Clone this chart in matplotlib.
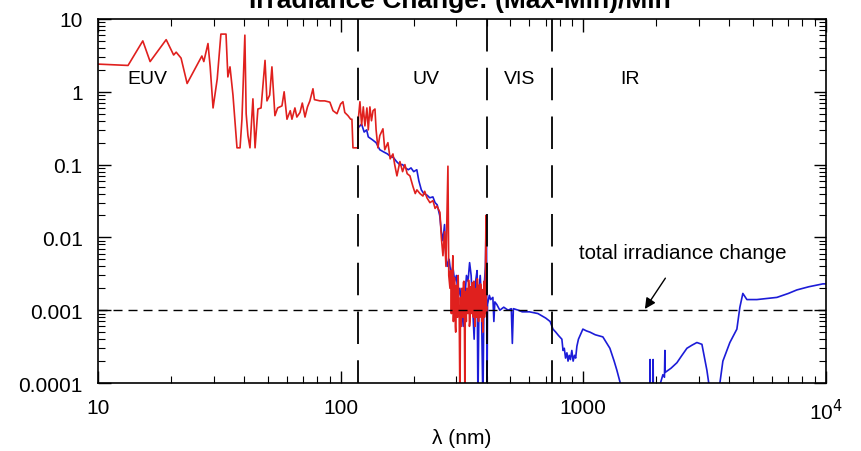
import numpy as np
import matplotlib
matplotlib.use("Agg")
import matplotlib.pyplot as plt

# Irradiance change (max-min)/min versus wavelength.
# Values below 1e-4 are off the bottom of the plot, they are written as 5e-5.

red_wl = [10, 13.3, 15.3, 16.4, 19.1, 20.5, 21.0, 22.0, 23.3, 26.8, 27.3, 28.4, 29.0,
          29.8, 31.0, 32.1, 33.7, 34.3, 35.0, 36.0, 37.4, 38.5, 39.2, 40.3, 40.8,
          41.5, 42.3, 43.5, 44.4, 45.6, 47.0, 48.8, 49.7, 51.0, 52.1, 53.6, 55.0,
          57.3, 58.5, 60.1, 62.0, 63.0, 64.8, 66.0, 68.0, 69.5, 71.3, 73.0, 74.7,
          76.9, 78.0, 82.2, 86.0, 90.3, 93.0, 96.6, 100.0, 102.2, 104.0, 107.2,
          110.0, 111.3, 112.4, 117.8, 118.5, 120.1, 122.0, 124.0, 125.9, 128.3,
          130.0, 132.0, 134.0, 136.0, 138.5, 140.0, 142.4, 145.0, 149.4, 152.0,
          156.6, 160.0, 164.3, 167.0, 170.6, 175.5, 180.0, 184.0, 188.0, 193.0,
          198.6, 203.0, 206.2, 212.2, 218.3, 222.0, 226.8, 233.3, 240.1, 245.0,
          249.4, 256.6, 260.0, 264.0, 268.0, 271.6, 276.8, 279.0, 282.2, 284.0,
          286.0, 288.0, 290.1, 291.5, 293.0, 294.5, 295.8, 297.0, 298.0, 300.0,
          301.5, 303.0, 305.0, 306.5, 308.0, 310.2, 312.0, 314.0, 316.0, 317.5,
          319.1, 320.5, 322.0, 323.5, 325.2, 326.5, 328.0, 329.5, 331.0, 333.0,
          334.6, 336.5, 338.0, 339.5, 341.0, 343.0, 345.0, 347.0, 349.0, 350.9,
          352.5, 354.0, 356.0, 357.6, 359.5, 362.0, 364.0, 366.0, 368.0, 370.0,
          372.0, 373.5, 375.0, 377.0, 380.0, 382.0, 384.0, 385.8, 388.0, 390.0,
          391.5, 393.2, 395.0, 397.0, 398.5, 400.8]
red_val = [2.4, 2.3, 5.0, 2.6, 5.2, 3.2, 3.5, 2.9, 1.3, 3.1, 2.6, 4.6, 2.2,
           0.6, 1.5, 6.2, 6.2, 1.6, 2.2, 0.9, 0.17, 0.17, 0.42, 6.0, 0.5,
           0.25, 0.17, 0.8, 0.17, 0.58, 0.6, 2.7, 0.75, 0.9, 2.2, 0.47, 0.6,
           0.64, 1.0, 0.42, 0.55, 0.42, 0.6, 0.45, 0.52, 0.7, 0.45, 0.62, 0.75,
           1.1, 0.78, 0.75, 0.75, 0.72, 0.55, 0.5, 0.68, 0.73, 0.52, 0.47,
           0.42, 0.42, 0.17, 0.17, 0.45, 0.73, 0.35, 0.62, 0.34, 0.6,
           0.3, 0.62, 0.4, 0.55, 0.58, 0.3, 0.17, 0.25, 0.31, 0.16,
           0.2, 0.12, 0.14, 0.1, 0.07, 0.11, 0.08, 0.1, 0.075, 0.07,
           0.05, 0.04, 0.045, 0.04, 0.037, 0.043, 0.035, 0.03, 0.032, 0.025,
           0.027, 0.022, 0.01, 0.0056, 0.012, 0.004, 0.095, 0.003, 0.002, 0.0035,
           0.0009, 0.003, 0.0056, 0.0007, 0.0012, 0.0028, 0.0016, 0.0006, 0.0005, 0.0022,
           0.0016, 0.0008, 0.003, 0.0012, 0.001, 5e-5, 0.0015, 0.0006, 0.002, 0.0011,
           0.0008, 0.0024, 0.0025, 0.0009, 5e-5, 0.0018, 0.0012, 0.0007, 0.002, 0.0013,
           0.0009, 0.0026, 0.0022, 0.0006, 0.0007, 0.0021, 0.0018, 0.0009, 0.0024, 0.0011,
           0.0008, 0.0025, 0.0012, 0.0006, 0.0019, 0.002, 0.0008, 0.0027, 0.0012, 0.0007,
           0.0022, 0.0015, 0.0008, 0.0023, 0.002, 0.0007, 0.0019, 0.0005, 0.0013, 0.0025,
           0.0008, 0.001, 0.0024, 0.02, 0.0009, 0.0011]

blue_wl = [118, 122, 125, 128, 130, 135, 140, 145, 150, 156, 160, 165, 170, 175, 180, 185,
           190, 195, 200, 206, 210, 215, 220, 227, 233, 240, 245, 250, 256, 260,
           264, 268, 271, 275, 280, 285, 290, 295, 300, 305, 310, 315, 320, 325,
           330, 335, 340, 345, 350, 355, 360, 365, 368, 372, 376, 380, 385.8, 390,
           395, 398, 399, 401, 403, 410, 415, 424, 428, 432, 440, 453, 470, 490,
           505, 510, 515, 540, 560, 600, 650, 700, 730, 750, 770, 790, 816, 825, 835,
           845, 856, 865, 875, 885, 897, 908, 920, 930, 941, 955, 970, 996, 1030, 1065,
           1120, 1204, 1287, 1340, 1375, 1420, 1442, 1881, 1885, 1890, 1936, 1940,
           1945, 2011, 2080, 2128, 2160, 2169, 2175, 2300, 2431, 2550, 2673, 2800,
           2938, 3082, 3231, 3388, 3553, 3760, 4018, 4294, 4418, 4545, 4722, 5192,
           5700, 6279, 7000, 7590, 8500, 9710, 10000]
blue_val = [0.32, 0.36, 0.28, 0.3, 0.24, 0.22, 0.2, 0.16, 0.15, 0.14, 0.13, 0.125, 0.11, 0.1, 0.1, 0.09,
            0.085, 0.09, 0.08, 0.085, 0.06, 0.045, 0.04, 0.038, 0.035, 0.036, 0.03, 0.028, 0.02, 0.012,
            0.009, 0.015, 0.006, 0.004, 0.005, 0.003, 0.004, 0.0025, 0.003, 0.0015, 0.002, 0.0012, 0.0006, 0.0015,
            0.003, 0.0025, 0.0045, 0.003, 0.0011, 0.0004, 0.0025, 0.0035, 5e-5, 0.002, 0.003, 0.0015, 5e-5, 0.002,
            0.004, 0.02, 0.02, 5e-5, 0.0012, 0.0016, 0.0014, 0.0015, 0.0007, 0.0013, 0.0012, 0.001, 0.0011, 0.001,
            0.00105, 0.00035, 0.00105, 0.001, 0.00095, 0.00095, 0.0009, 0.00078, 0.0007, 0.00055, 0.0005, 0.00045,
            0.0004, 0.00028, 0.0003, 0.00022, 0.00026, 0.0002, 0.00024, 0.00021, 0.00028, 0.0002, 0.00024, 0.00022,
            0.00032, 0.0004, 0.00045, 0.00055, 0.00052, 0.0005, 0.00046, 0.00043, 0.0003, 0.0002, 0.00015, 0.0001,
            5e-5, 5e-5, 0.00021, 5e-5, 5e-5, 0.00021, 5e-5, 5e-5, 0.0001, 0.00013, 0.00012, 0.00028, 0.00014,
            0.00016, 0.00019, 0.00024, 0.0003, 0.00033, 0.00036, 0.00034, 0.00015, 5e-5, 5e-5, 0.0002, 0.00036,
            0.00055, 0.0011, 0.0017, 0.0014, 0.0014, 0.00145, 0.0015, 0.0017, 0.0019, 0.0021, 0.0023, 0.0023]

total_change = 0.001
boundaries = [118, 400, 740]
regions = ["EUV", "UV", "VIS", "IR"]
region_x = [16, 224, 548, 1556]

xticks = [10, 100, 1000, 10000]
xtick_labels = ["10", "100", "1000", "10$^4$"]
yticks = [1e-4, 1e-3, 1e-2, 1e-1, 1, 10]
ytick_labels = ["0.0001", "0.001", "0.01", "0.1", "1", "10"]

plt.rcParams["font.family"] = ["Liberation Sans", "DejaVu Sans"]

fig = plt.figure(figsize=(8.61, 4.52), dpi=100)
ax = fig.add_axes([0.1138, 0.1504, 0.8455, 0.8054])

ax.plot(blue_wl, blue_val, color="#1c1cd8", lw=1.2)
ax.plot(red_wl, red_val, color="#e0201e", lw=1.2)

# region boundaries, drawn from the top down so the dashes start at the top edge
for b in boundaries:
    ax.plot([b, b], [10, 1e-4], color="black", lw=1.3, linestyle=(0, (18, 9)))
ax.plot([10, 10000], [total_change, total_change], color="black", lw=1.0,
        linestyle=(0, (6.5, 4.3)))

for name, x in zip(regions, region_x):
    ax.text(x, 1.5, name, ha="center", va="center", fontsize=14)

ax.annotate("total irradiance change", xy=(1794, 0.00104), xytext=(2570, 0.0063),
            ha="center", va="center", fontsize=14.8,
            arrowprops=dict(arrowstyle="-|>", color="black", lw=1.0,
                            mutation_scale=16, shrinkA=12, shrinkB=0))

ax.set_xscale("log")
ax.set_yscale("log")
ax.set_xlim(10, 10000)
ax.set_ylim(1e-4, 10)
ax.set_xticks(xticks, xtick_labels)
ax.set_yticks(yticks, ytick_labels)
ax.tick_params(which="both", direction="in", top=True, right=True, labelsize=15)
ax.tick_params(which="major", length=9, width=1.0, pad=11)
ax.tick_params(which="minor", length=5, width=0.8)
for s in ax.spines.values():
    s.set_linewidth(1.2)

ax.set_xlabel("λ (nm)", fontsize=15, labelpad=3)

# the title is cut off by the top of the picture in the original
fig.text(0.534, 1 - 8 / 452, "Irradiance Change: (Max-Min)/Min", ha="center",
         va="baseline", fontsize=19, fontweight="bold")

fig.savefig("out.png", dpi=100)
